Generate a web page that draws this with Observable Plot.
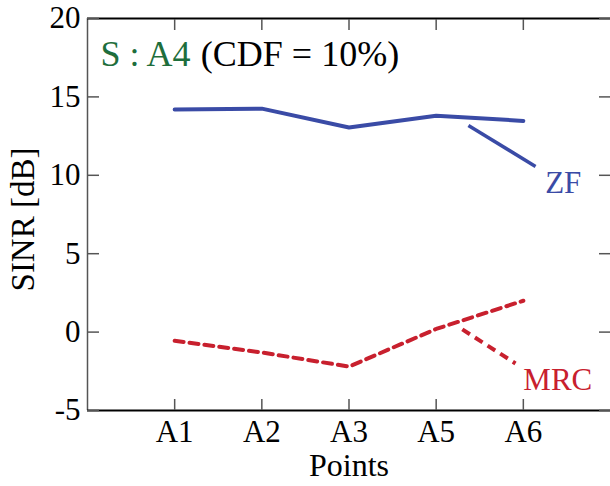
<!DOCTYPE html>
<html>
<head>
<meta charset="utf-8">
<script src="https://cdn.jsdelivr.net/npm/d3@7"></script>
<script src="https://cdn.jsdelivr.net/npm/@observablehq/plot@0.6"></script>
<style>
  html, body { margin: 0; padding: 0; background: #fff; }
  #chart svg { display: block; }
  #chart svg, #chart svg text { font-family: 'Liberation Serif', 'Times New Roman', serif; }
</style>
</head>
<body>
<div id="chart"></div>
<script>
// ---- data ----
const points = ["A1", "A2", "A3", "A5", "A6"];
const zfValues = [14.2, 14.25, 13.05, 13.8, 13.47];
const mrcValues = [-0.55, -1.3, -2.2, 0.2, 2.0];
const yTicks = [-5, 0, 5, 10, 15, 20];
const seriesNames = ["ZF", "MRC"];
const seriesColors = ["#3a4ba6", "#c8202e"];
// callout lines (data units: x = point index, y = dB)
const calloutX1 = [4.37, 4.30];
const calloutY1 = [13.18, 0.17];
const calloutX2 = [5.14, 4.91];
const calloutY2 = [10.56, -2.0];
const labelX = [5.25, 5.0];
const labelY = [8.84, -3.72];
// title
const titleParts = ["S : A4", "(CDF = 10%)"];
const titleColors = ["#1e6e3c", "#000000"];
const titleX = [0.15, 1.30];
const titleY = [17.0, 17.0];
const xTitle = "Points";
const yTitle = "SINR [dB]";

// ---- tables ----
const xIdx = points.map((_, i) => i + 1);
const zfData = points.map((p, i) => ({x: i + 1, y: zfValues[i]}));
const mrcData = points.map((p, i) => ({x: i + 1, y: mrcValues[i]}));
const callouts = seriesNames.map((s, i) => ({
  name: s, x1: calloutX1[i], y1: calloutY1[i], x2: calloutX2[i], y2: calloutY2[i],
  lx: labelX[i], ly: labelY[i], color: seriesColors[i], dash: i === 1 ? "9,6" : null
}));
const titles = titleParts.map((t, i) => ({t, x: titleX[i], y: titleY[i], c: titleColors[i]}));

const font = "'Liberation Serif', 'Times New Roman', serif";

const chart = Plot.plot({
  width: 610,
  height: 486,
  marginTop: 18,
  marginBottom: 76,
  marginLeft: 87,
  marginRight: 0,
  style: {fontFamily: font, fontSize: "31px", background: "#fff", color: "#000", overflow: "visible"},
  x: {type: "linear", domain: [0, 6], axis: null},
  y: {type: "linear", domain: [-5, 20], axis: null},
  marks: [
    // frame pieces
    Plot.ruleX([0], {stroke: "#555", strokeWidth: 1.5}),
    Plot.ruleY([20, -5], {stroke: "#000", strokeWidth: 2}),
    // inward ticks
    Plot.axisY({anchor: "left", ticks: yTicks, tickSize: -12, text: null, stroke: "#555", strokeWidth: 1.5}),
    Plot.axisY({anchor: "right", ticks: yTicks, tickSize: -12, text: null, stroke: "#555", strokeWidth: 1.5}),
    Plot.axisX({anchor: "top", ticks: xIdx, tickSize: -11, text: null, stroke: "#555", strokeWidth: 1.5}),
    Plot.axisX({anchor: "bottom", ticks: xIdx, tickSize: -11, text: null, stroke: "#555", strokeWidth: 1.5}),
    // tick labels
    Plot.axisY({anchor: "left", ticks: yTicks, tickSize: 0, tickPadding: 7, tickFormat: d => `${d}`, label: null, fill: "#000", fontSize: 31}),
    Plot.axisX({anchor: "bottom", ticks: xIdx, tickSize: 0, tickPadding: 9, tickFormat: d => points[d - 1], label: null, fill: "#000", fontSize: 31}),
    // axis titles
    Plot.text([xTitle], {frameAnchor: "bottom", text: d => d, dy: 65, lineAnchor: "bottom", fontSize: 32, fill: "#000"}),
    Plot.text([yTitle], {frameAnchor: "left", text: d => d, rotate: -90, dx: -54, dy: 5, lineAnchor: "bottom", textAnchor: "middle", fontSize: 33, fill: "#000"}),
    // series
    Plot.line(zfData, {x: "x", y: "y", stroke: seriesColors[0], strokeWidth: 4}),
    Plot.line(mrcData, {x: "x", y: "y", stroke: seriesColors[1], strokeWidth: 4, strokeDasharray: "9,6"}),
    // callouts
    Plot.link(callouts.filter(d => !d.dash), {x1: "x1", y1: "y1", x2: "x2", y2: "y2", stroke: "color", strokeWidth: 3.5}),
    Plot.link(callouts.filter(d => d.dash), {x1: "x1", y1: "y1", x2: "x2", y2: "y2", stroke: "color", strokeWidth: 4, strokeDasharray: "9,6"}),
    Plot.text(callouts, {x: "lx", y: "ly", text: "name", fill: "color", textAnchor: "start", lineAnchor: "bottom", fontSize: 31}),
    // title
    Plot.text(titles, {x: "x", y: "y", text: "t", fill: "c", textAnchor: "start", lineAnchor: "bottom", fontSize: 36})
  ]
});
document.getElementById("chart").appendChild(chart);
</script>
</body>
</html>
